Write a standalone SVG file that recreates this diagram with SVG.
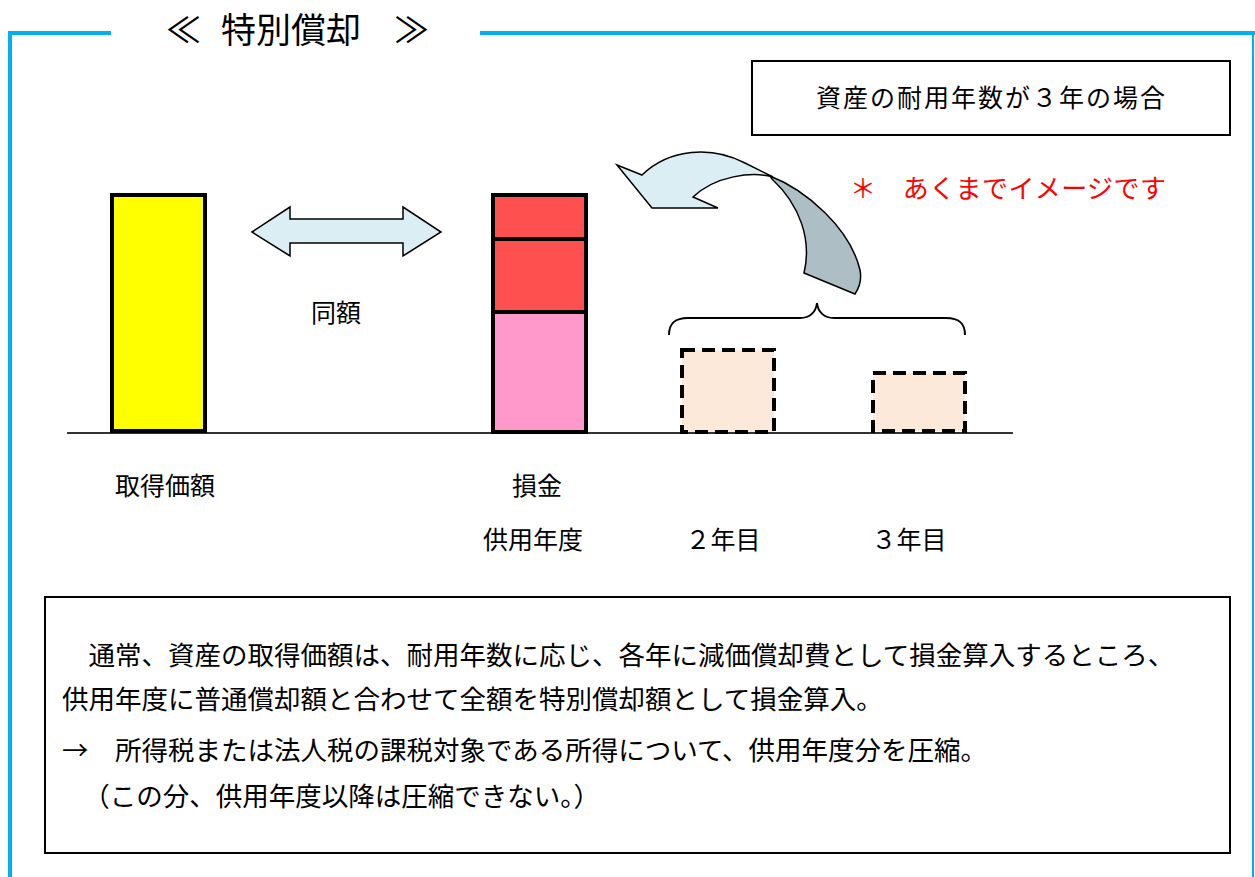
<svg xmlns="http://www.w3.org/2000/svg" width="1255" height="877" viewBox="0 0 1255 877">
<style>
  text { font-family: "Noto Sans CJK JP", "Noto Sans", sans-serif; fill: #000; }
  .lbl { font-size: 25px; text-anchor: middle; }
  .body { font-size: 26.5px; }
  .bar { stroke: #000; stroke-width: 4; }
  .dash { fill: #FCE9DA; stroke: #000; stroke-width: 4; stroke-dasharray: 13 7; }
  .frame { stroke: #00B0F0; fill: none; }
  .arrow { stroke: #000; stroke-width: 1.5; stroke-linejoin: miter; }
</style>
<rect width="1255" height="877" fill="#fff"/>

<g id="frame">
  <path class="frame" stroke-width="4" d="M10,877 L10,33 L111,33"/>
  <path class="frame" stroke-width="4" d="M480,33 L1255,33"/>
  <path class="frame" stroke-width="2" d="M1253,33 L1253,877"/>
</g>

<g id="title">
  <text font-size="35"><tspan x="166" y="43">≪</tspan><tspan x="221" y="43">特別償却</tspan><tspan x="394" y="43">≫</tspan></text>
</g>

<g id="caseBox">
  <rect x="752" y="61" width="478" height="74" fill="#fff" stroke="#000" stroke-width="2"/>
  <text x="816" y="107" font-size="25" letter-spacing="2">資産の耐用年数が３年の場合</text>
</g>

<g id="note">
  <text x="850" y="198" font-size="26" letter-spacing="0.4" style="fill:#FF0000">＊　あくまでイメージです</text>
</g>

<g id="connectors">
  <path id="doubleArrow" class="arrow" fill="#DAEEF3" d="M252,232 L290,207 L290,219 L403,219 L403,207 L441,232 L403,256 L403,243 L290,243 L290,256 Z"/>
  <path id="curveBack" class="arrow" fill="#ADBFC4" d="M770,176 C806,190 850,228 860,270 C862,280 859,288 855,294 L804,273 C812,240 800,205 772,179 Z"/>
  <path id="curveFront" class="arrow" fill="#DAEEF3" d="M617,165 L642,175 C670,148 712,146 745,163 L773,177 C752,171 715,176 693,197 L718,208 L652,208 Z"/>
  <path id="brace" fill="none" stroke="#000" stroke-width="2" d="M669,335 C669,323 675,318 688,318 L800,318 C810,318 816,312 817,303 C818,312 824,318 834,318 L946,318 C959,318 965,323 965,335"/>
  <line id="axis" x1="67" y1="433" x2="1013" y2="433" stroke="#333" stroke-width="2"/>
</g>

<g id="acqBar">
  <rect class="bar" x="112" y="195" width="93" height="236" fill="#FFFF00"/>
</g>

<g id="lossBar">
  <rect class="bar" x="493" y="312" width="93" height="120" fill="#FF99CC"/>
  <rect class="bar" x="493" y="239" width="93" height="73" fill="#FF5050"/>
  <rect class="bar" x="493" y="195" width="93" height="44" fill="#FF5050"/>
</g>

<g id="year2Box">
  <rect class="dash" x="682" y="350" width="92" height="82"/>
</g>
<g id="year3Box">
  <rect class="dash" x="873" y="373" width="92" height="58"/>
</g>

<g id="labels">
  <text class="lbl" x="336" y="322" font-size="24">同額</text>
  <text class="lbl" x="165" y="495">取得価額</text>
  <text class="lbl" x="537" y="495">損金</text>
  <text class="lbl" x="533" y="549">供用年度</text>
  <text class="lbl" x="723" y="549">２年目</text>
  <text class="lbl" x="909" y="549">３年目</text>
</g>

<g id="explanation">
  <rect x="45" y="597" width="1185" height="256" fill="#fff" stroke="#000" stroke-width="2"/>
  <text class="body" x="62" y="665">　通常、資産の取得価額は、耐用年数に応じ、各年に減価償却費として損金算入するところ、</text>
  <text class="body" x="62" y="709">供用年度に普通償却額と合わせて全額を特別償却額として損金算入。</text>
  <text class="body" x="62" y="760">→　所得税または法人税の課税対象である所得について、供用年度分を圧縮。</text>
  <text class="body" x="70" y="806">　（この分、供用年度以降は圧縮できない。）</text>
</g>
</svg>
